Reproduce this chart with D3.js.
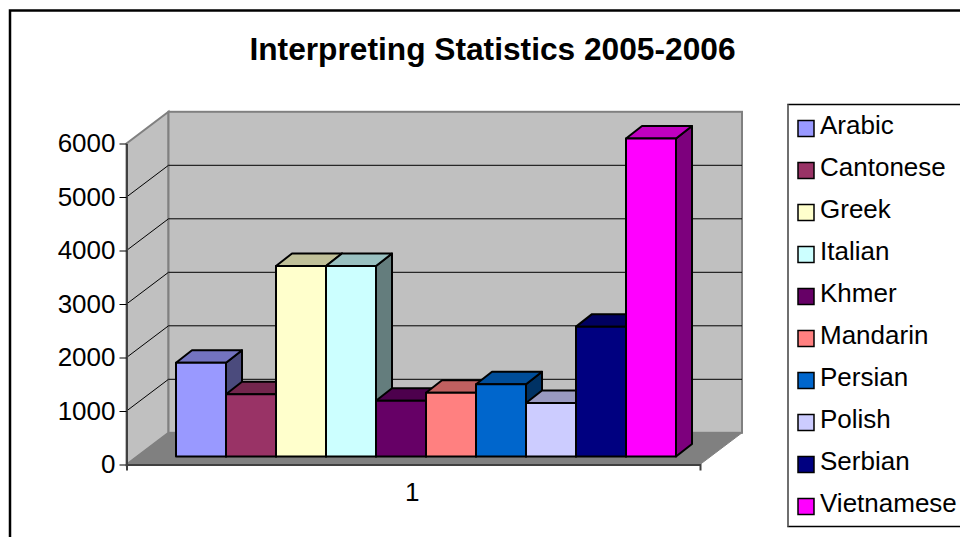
<!DOCTYPE html>
<html>
<head>
<meta charset="utf-8">
<script src="https://cdn.jsdelivr.net/npm/d3@7"></script>
<style>
html, body { margin: 0; padding: 0; background: #fff; overflow: hidden; }
text { font-family: "Liberation Sans", Arial, sans-serif; fill: #000; }
</style>
</head>
<body>
<div id="chart"></div>
<script>
const languages = ["Arabic", "Cantonese", "Greek", "Italian", "Khmer", "Mandarin", "Persian", "Polish", "Serbian", "Vietnamese"];
const counts = [1753, 1162, 3560, 3560, 1043, 1193, 1350, 1000, 2427, 5944];
const barColors = ["#9999ff", "#993366", "#ffffcc", "#ccffff", "#660066", "#ff8080", "#0066cc", "#ccccff", "#000080", "#ff00ff"];
const yTicks = [0, 1000, 2000, 3000, 4000, 5000, 6000];
const categories = ["1"];

const width = 960, height = 537;

const svg = d3.select("#chart").append("svg")
    .attr("width", width)
    .attr("height", height);

// outer chart frame, runs off the right and bottom of the picture
svg.append("rect")
    .attr("x", 10).attr("y", 10.5)
    .attr("width", width + 20).attr("height", height + 20)
    .attr("fill", "#fff")
    .attr("stroke", "#000")
    .attr("stroke-width", 2.5);

svg.append("text")
    .attr("x", 492.5).attr("y", 60)
    .attr("text-anchor", "middle")
    .attr("font-size", "31.7px")
    .attr("font-weight", "bold")
    .text("Interpreting Statistics 2005-2006");

// front plane of the 3d box
var left = 126.5, right = 700, y0 = 464.5, y6000 = 143.5;
var depthX = 42, depthY = -31.7;

var y = d3.scaleLinear().domain([0, 6000]).range([y0, y6000]);
var xCat = d3.scaleBand().domain(categories).range([left, right]);

// walls
var wallPath = d3.path();
wallPath.moveTo(left, y0);
wallPath.lineTo(left + depthX, y0 + depthY);
wallPath.lineTo(left + depthX, y6000 + depthY);
wallPath.lineTo(left, y6000);
wallPath.closePath();
svg.append("path").attr("d", wallPath.toString())
    .attr("fill", "#c0c0c0").attr("stroke", "#808080").attr("stroke-width", 2);

svg.append("rect")
    .attr("x", left + depthX).attr("y", y6000 + depthY)
    .attr("width", right - left).attr("height", y0 - y6000)
    .attr("fill", "#c0c0c0").attr("stroke", "#808080").attr("stroke-width", 2);

var floorPath = d3.path();
floorPath.moveTo(left, y0);
floorPath.lineTo(left + depthX, y0 + depthY);
floorPath.lineTo(right + depthX, y0 + depthY);
floorPath.lineTo(right, y0);
floorPath.closePath();
svg.append("path").attr("d", floorPath.toString())
    .attr("fill", "#808080").attr("stroke", "#808080");

// gridlines, bent round the left wall
var gridLine = d3.line();
svg.append("g").selectAll("path")
    .data(yTicks.filter(function(d) { return d > 0 && d < 6000; }))
    .join("path")
    .attr("fill", "none")
    .attr("stroke", "#000")
    .attr("stroke-width", 1)
    .attr("d", function(d) {
        return gridLine([
            [left, y(d)],
            [left + depthX, y(d) + depthY],
            [right + depthX, y(d) + depthY]
        ]);
    });

// bars stand a quarter of the way into the box
var barDx = 16, barDy = -12.5;
var barBase = 456.5;
var x = d3.scaleBand().domain(languages).range([176, 676]);
var h = function(v) { return y0 - y(v); };

var bars = svg.append("g")
    .attr("stroke", "#000")
    .attr("stroke-width", 2)
    .attr("stroke-linejoin", "round");

languages.forEach(function(name, i) {
    var x1 = x(name), x2 = x1 + x.bandwidth();
    var top = barBase - h(counts[i]);
    var base = d3.color(barColors[i]);

    bars.append("polygon")
        .attr("points", [[x2, barBase], [x2 + barDx, barBase + barDy], [x2 + barDx, top + barDy], [x2, top]].join(" "))
        .attr("fill", base.darker(2).formatHex());
    bars.append("polygon")
        .attr("points", [[x1, top], [x1 + barDx, top + barDy], [x2 + barDx, top + barDy], [x2, top]].join(" "))
        .attr("fill", base.darker(0.8).formatHex());
    bars.append("rect")
        .attr("x", x1).attr("y", top)
        .attr("width", x.bandwidth()).attr("height", barBase - top)
        .attr("fill", barColors[i]);
});

// axes
var yAxis = svg.append("g")
    .attr("transform", "translate(" + left + ",0)")
    .call(d3.axisLeft(y).tickValues(yTicks).tickFormat(d3.format("d")).tickSize(7).tickPadding(4).tickSizeOuter(0));
yAxis.select(".domain").attr("stroke", "#404040").attr("stroke-width", 2);
yAxis.selectAll("text").attr("font-size", "26px").style("font-family", "Liberation Sans");

var xAxis = svg.append("g")
    .attr("transform", "translate(0," + y0 + ")")
    .call(d3.axisBottom(xCat).tickSize(0).tickPadding(18).tickSizeOuter(6));
xAxis.select(".domain").attr("stroke", "#404040").attr("stroke-width", 2);
xAxis.selectAll("text").attr("font-size", "26px").attr("dx", "-1").style("font-family", "Liberation Sans");

// legend box: black top and bottom, gray left side
var legendY = d3.scaleBand().domain(languages).range([107, 527]);
svg.append("rect")
    .attr("x", 788).attr("y", 104.5)
    .attr("width", 200).attr("height", 422)
    .attr("fill", "#fff")
    .attr("stroke", "#000")
    .attr("stroke-width", 1.5);
svg.append("line")
    .attr("x1", 788).attr("x2", 788)
    .attr("y1", 104.5).attr("y2", 526.5)
    .attr("stroke", "#808080")
    .attr("stroke-width", 1.5);

var legend = svg.append("g").selectAll("g")
    .data(languages)
    .join("g")
    .attr("transform", function(d) { return "translate(0," + legendY(d) + ")"; });

legend.append("rect")
    .attr("x", 798).attr("y", 13.5)
    .attr("width", 16).attr("height", 16)
    .attr("fill", function(d, i) { return barColors[i]; })
    .attr("stroke", "#000")
    .attr("stroke-width", 1.5);

legend.append("text")
    .attr("x", 820).attr("y", 26.5)
    .attr("font-size", "26px")
    .text(function(d) { return d; });
</script>
</body>
</html>
